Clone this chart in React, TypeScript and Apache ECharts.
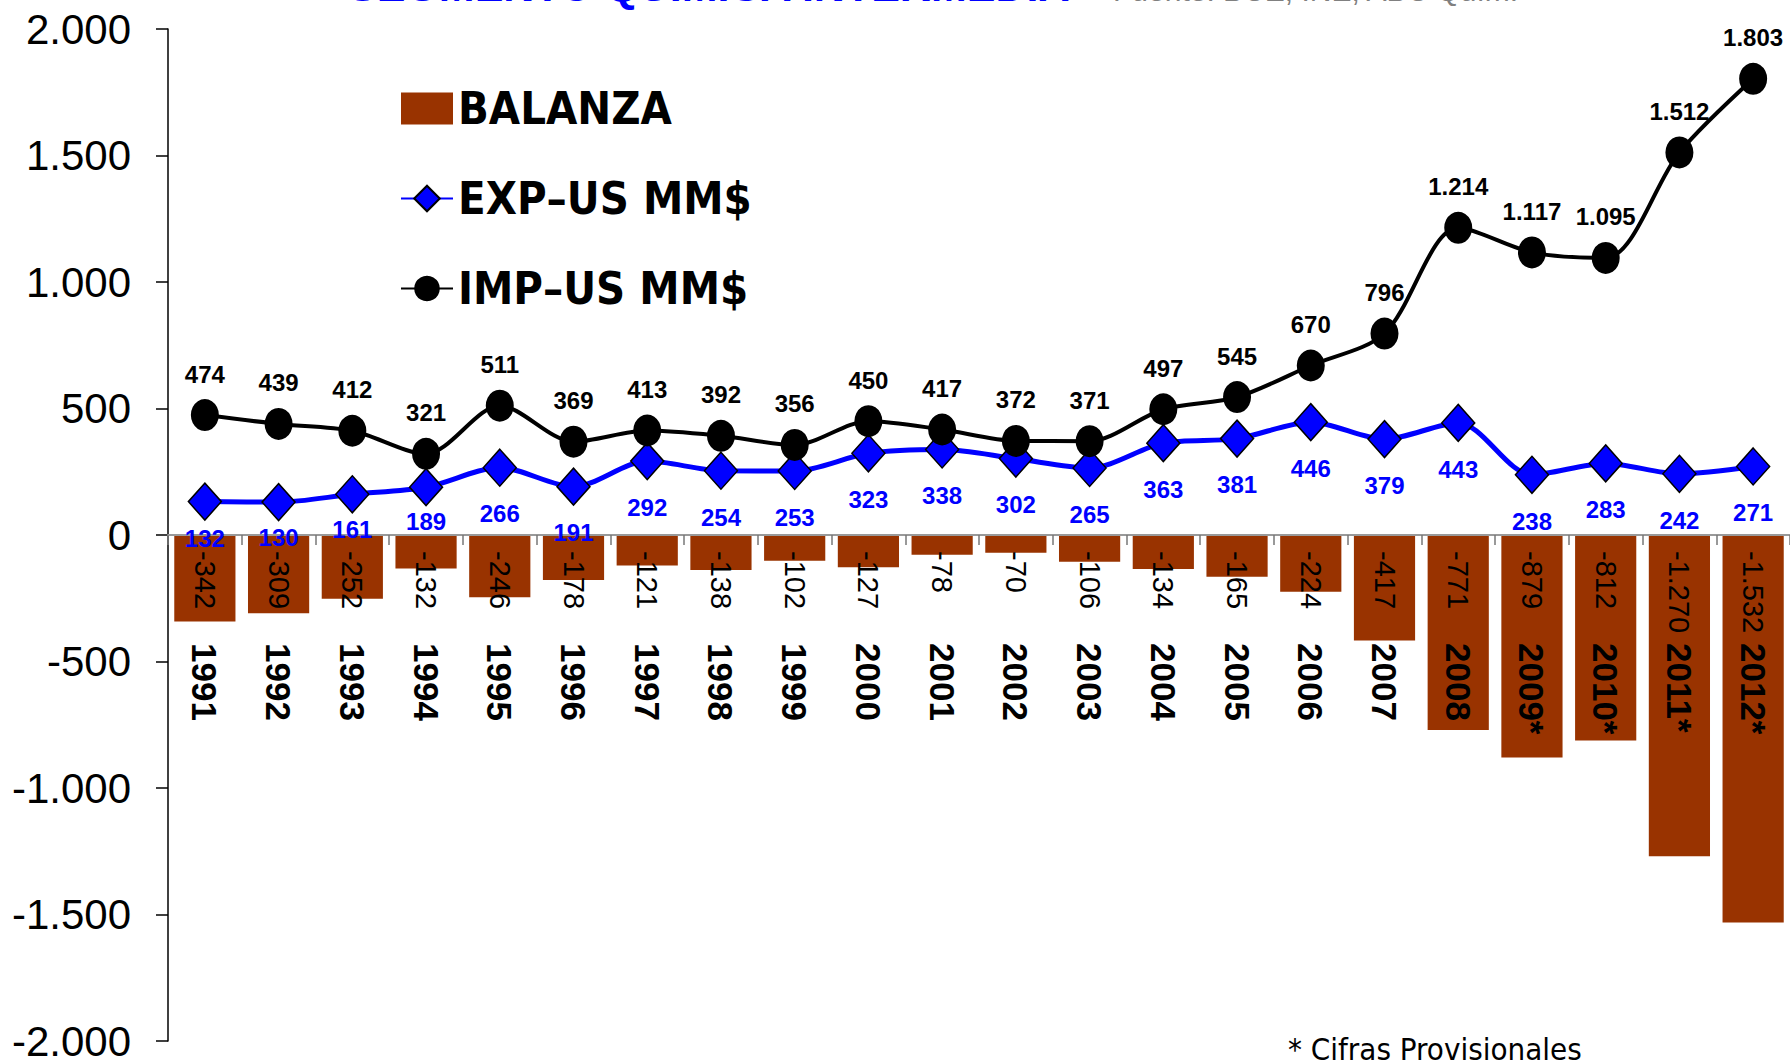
import React, { useEffect, useRef } from "react";
import * as echarts from "echarts";

const years = ["1991", "1992", "1993", "1994", "1995", "1996", "1997", "1998", "1999", "2000", "2001", "2002", "2003", "2004", "2005", "2006", "2007", "2008", "2009*", "2010*", "2011*", "2012*"];
const balanza = [-342, -309, -252, -132, -246, -178, -121, -138, -102, -127, -78, -70, -106, -134, -165, -224, -417, -771, -879, -812, -1270, -1532];
const exportaciones = [132, 130, 161, 189, 266, 191, 292, 254, 253, 323, 338, 302, 265, 363, 381, 446, 379, 443, 238, 283, 242, 271];
const importaciones = [474, 439, 412, 321, 511, 369, 413, 392, 356, 450, 417, 372, 371, 497, 545, 670, 796, 1214, 1117, 1095, 1512, 1803];
const seriesNames = ["BALANZA", "EXP\u2013US MM$", "IMP\u2013US MM$"];
const titleText = "SEGMENTO QUÍMICA INTERMEDIA";
const sourceText = "Fuente: BCE, INE, ABC Quím.";
const noteText = "* Cifras Provisionales";

const ARIAL = "'Liberation Sans', Arial, sans-serif";
const NARROW = "'Liberation Sans Narrow', 'Arial Narrow', 'Liberation Sans', sans-serif";
const LEG = "'DejaVu Sans Condensed', 'DejaVu Sans', sans-serif";

// label nudges for the first EXP points (as placed in the original)
const expLabelShift = [-9, -11, -11, -12];

function fmt(v: number): string {
  const neg = v < 0;
  const s = String(Math.abs(Math.round(v))).replace(/\B(?=(\d{3})+(?!\d))/g, ".");
  return (neg ? "-" : "") + s;
}

export default function App() {
  const ref = useRef<HTMLDivElement>(null);
  useEffect(() => {
    document.body.style.margin = "0";
    const chart = echarts.init(ref.current!, null, { renderer: "svg" });
    const expData = exportaciones.map((v, i) =>
      i < expLabelShift.length ? { value: v, label: { offset: [0, expLabelShift[i]] } } : v
    );
    chart.setOption({
      animation: false,
      backgroundColor: "#ffffff",
      grid: { left: 168, right: 0, top: 29, bottom: 22, containLabel: false, outerBoundsMode: "none" },
      legend: {
        orient: "vertical",
        left: 395,
        top: 81,
        itemWidth: 52,
        itemHeight: 32,
        itemGap: 45,
        selectedMode: false,
        data: [
          { name: seriesNames[0], icon: "rect" },
          { name: seriesNames[1] },
          { name: seriesNames[2] },
        ],
        textStyle: { fontFamily: LEG, fontWeight: "bold", fontSize: 45, color: "#000", lineHeight: 45 },
      },
      xAxis: {
        type: "category",
        data: years,
        z: 2,
        axisLine: { onZero: true, lineStyle: { color: "#999", width: 2 } },
        axisTick: { show: true, interval: 0, length: 10, lineStyle: { color: "#777", width: 1.5 } },
        axisLabel: {
          interval: 0,
          rotate: -90,
          margin: -398,
          fontSize: 35,
          fontWeight: "bold",
          color: "#000",
          fontFamily: ARIAL,
        },
      },
      yAxis: {
        type: "value",
        min: -2000,
        max: 2000,
        interval: 500,
        splitLine: { show: false },
        axisLine: { show: true, lineStyle: { color: "#000", width: 1.5 } },
        axisTick: { show: true, length: 12, lineStyle: { color: "#000", width: 1.5 } },
        axisLabel: { formatter: (v: number) => fmt(v), fontSize: 42, color: "#000", margin: 37, fontFamily: ARIAL },
      },
      graphic: [
        {
          type: "text",
          x: 348,
          y: -14,
          style: { text: titleText, fontSize: 43, fontWeight: "bold", fontFamily: ARIAL, fill: "#0000FF", verticalAlign: "middle" },
        },
        {
          type: "text",
          x: 1113,
          y: -10,
          style: { text: sourceText, fontSize: 30, fontFamily: ARIAL, fill: "#808080", verticalAlign: "middle" },
        },
        {
          type: "text",
          x: 1288,
          y: 1033,
          style: { text: noteText, fontSize: 31, fontFamily: LEG, fill: "#000", verticalAlign: "top" },
        },
      ],
      series: [
        {
          name: seriesNames[0],
          type: "bar",
          data: balanza,
          barWidth: "83%",
          itemStyle: { color: "#993300" },
          label: {
            show: true,
            position: "insideTop",
            distance: 16,
            rotate: -90,
            align: "left",
            verticalAlign: "middle",
            formatter: (p: any) => fmt(p.value),
            fontSize: 29,
            color: "#000",
            fontFamily: NARROW,
          },
          z: 1,
        },
        {
          name: seriesNames[1],
          type: "line",
          data: expData,
          smooth: 0.3,
          symbol: "diamond",
          symbolSize: [33, 37],
          lineStyle: { color: "#0000FF", width: 5 },
          itemStyle: { color: "#0000FF", borderColor: "#000", borderWidth: 1.5 },
          label: {
            show: true,
            position: "bottom",
            distance: 15,
            color: "#0000FF",
            fontSize: 24,
            fontWeight: "bold",
            fontFamily: ARIAL,
            formatter: (p: any) => fmt(typeof p.value === "number" ? p.value : p.data.value),
          },
          z: 3,
        },
        {
          name: seriesNames[2],
          type: "line",
          data: importaciones,
          smooth: 0.3,
          symbol: "circle",
          symbolSize: [28, 32],
          lineStyle: { color: "#000", width: 4 },
          itemStyle: { color: "#000" },
          label: {
            show: true,
            position: "top",
            distance: 13,
            color: "#000",
            fontSize: 24,
            fontWeight: "bold",
            fontFamily: ARIAL,
            formatter: (p: any) => fmt(p.value),
          },
          z: 4,
        },
      ],
    });
    return () => chart.dispose();
  }, []);
  return <div ref={ref} style={{ width: 1790, height: 1063 }} />;
}
